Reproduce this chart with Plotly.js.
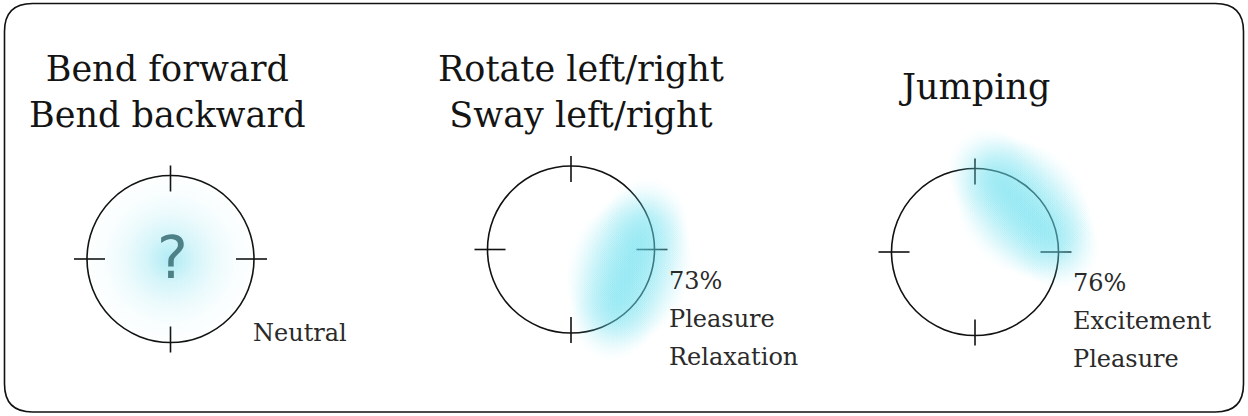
<!DOCTYPE html>
<html>
<head>
<meta charset="utf-8">
<script src="https://cdn.plot.ly/plotly-3.0.1.min.js"></script>
<style>html,body{margin:0;padding:0;background:#fff;}#chart{width:1248px;height:416px;}</style>
</head>
<body>
<div id="chart"></div>
<script>
// ---- data ----
const panelTitles = ["Bend forward<br>Bend backward", "Rotate left/right<br>Sway left/right", "Jumping"];
const confidencePct = [null, 73, 76];
const emotionLabels = [["Neutral"], ["Pleasure", "Relaxation"], ["Excitement", "Pleasure"]];
const emotionAngleDeg = [0, -19, 42];      // direction on the circumplex
const emotionRadius = [0, 0.74, 0.78];     // fraction of circle radius
const unknownMark = ["?", null, null];

// ---- layout constants (positions / styles) ----
const W = 1248, H = 416;
const centers = [[170.5, 259], [571, 249.5], [975, 252]];
const R = 83.5;
const titleY = [92, 92, 87];
const titleX = [167, 581, 974];
const labelX = [251, 667, 1071];
const labelY0 = [333, 281, 283];
const labelStep = 38;
const serif = "DejaVu Serif, serif";

const shapes = [];
(function () {
  const x0 = 4.5, x1 = 1243.5, y0 = 3.5, y1 = 412, r = 28;
  shapes.push({
    type: "path", xref: "x", yref: "y", layer: "below",
    path: `M ${x0 + r} ${y0} L ${x1 - r} ${y0} Q ${x1} ${y0} ${x1} ${y0 + r} L ${x1} ${y1 - r} Q ${x1} ${y1} ${x1 - r} ${y1} L ${x0 + r} ${y1} Q ${x0} ${y1} ${x0} ${y1 - r} L ${x0} ${y0 + r} Q ${x0} ${y0} ${x0 + r} ${y0} Z`,
    line: { color: "#111", width: 1.6 }
  });
})();

const lineStyle = { color: "#111", width: 1.6 };
centers.forEach(([cx, cy]) => {
  shapes.push({ type: "circle", xref: "x", yref: "y", layer: "below",
    x0: cx - R, x1: cx + R, y0: cy - R, y1: cy + R, line: lineStyle });
  const hOut = 13, hIn = 18, vOut = 10, vIn = 16;
  shapes.push({ type: "line", xref: "x", yref: "y", layer: "below", x0: cx - R - hOut, x1: cx - R + hIn, y0: cy, y1: cy, line: lineStyle });
  shapes.push({ type: "line", xref: "x", yref: "y", layer: "below", x0: cx + R - hIn, x1: cx + R + hOut, y0: cy, y1: cy, line: lineStyle });
  shapes.push({ type: "line", xref: "x", yref: "y", layer: "below", x0: cx, x1: cx, y0: cy - R - vOut, y1: cy - R + vIn, line: lineStyle });
  shapes.push({ type: "line", xref: "x", yref: "y", layer: "below", x0: cx, x1: cx, y0: cy + R - vIn, y1: cy + R + vOut, line: lineStyle });
});

// glow traces (marker.color = rim, gradient.color = centre)
const traces = [];
centers.forEach(([cx, cy], i) => {
  const a = emotionAngleDeg[i] * Math.PI / 180;
  const gx = cx + Math.cos(a) * emotionRadius[i] * R;
  const gy = cy - Math.sin(a) * emotionRadius[i] * R;
  const xs = [], ys = [], sz = [];
  if (emotionRadius[i] === 0) {
    xs.push(gx, gx, gx, gx); ys.push(gy, gy, gy, gy); sz.push(175, 130, 90, 50);
    traces.push({ type: "scatter", mode: "markers", x: xs, y: ys, hoverinfo: "skip", showlegend: false,
      marker: { size: sz, color: "rgba(110,220,236,0)", line: { width: 0 },
        gradient: { type: "radial", color: "rgba(110,220,236,0.25)" } } });
  } else {
    const tx = -Math.sin(a), ty = -Math.cos(a);
    const n = 13, half = 55;
    for (let k = 0; k < n; k++) {
      const t = -half + 2 * half * k / (n - 1);
      xs.push(gx + tx * t); ys.push(gy + ty * t);
      sz.push(130 - 50 * Math.abs(t) / half);
    }
    traces.push({ type: "scatter", mode: "markers", x: xs, y: ys, hoverinfo: "skip", showlegend: false,
      marker: { size: sz, color: "rgba(100,222,238,0)", line: { width: 0 },
        gradient: { type: "radial", color: "rgba(100,222,238,0.25)" } } });
  }
});

const annotations = [];
panelTitles.forEach((t, i) => {
  annotations.push({ x: titleX[i], y: titleY[i], xref: "x", yref: "y", text: t, showarrow: false,
    xanchor: "center", yanchor: "middle", align: "center",
    font: { family: serif, size: 35, color: "#141414" } });
  const lines = [];
  if (confidencePct[i] !== null) lines.push(confidencePct[i] + "%");
  emotionLabels[i].forEach(l => lines.push(l));
  lines.forEach((l, k) => {
    annotations.push({ x: labelX[i], y: labelY0[i] + k * labelStep, xref: "x", yref: "y", text: l, showarrow: false,
      xanchor: "left", yanchor: "middle", font: { family: serif, size: 24, color: "#2a2a2a" } });
  });
  if (unknownMark[i]) {
    annotations.push({ x: centers[i][0] + 2, y: centers[i][1] - 1, xref: "x", yref: "y", text: unknownMark[i], showarrow: false,
      xanchor: "center", yanchor: "middle", font: { family: "DejaVu Sans, sans-serif", size: 58, color: "#4d8087" } });
  }
});

const layout = {
  width: W, height: H, margin: { l: 0, r: 0, t: 0, b: 0 },
  paper_bgcolor: "#fff", plot_bgcolor: "rgba(0,0,0,0)",
  xaxis: { range: [0, W], visible: false, fixedrange: true },
  yaxis: { range: [H, 0], visible: false, fixedrange: true },
  shapes, annotations, showlegend: false
};
Plotly.newPlot("chart", traces, layout, { staticPlot: true, displayModeBar: false });
</script>
</body>
</html>
